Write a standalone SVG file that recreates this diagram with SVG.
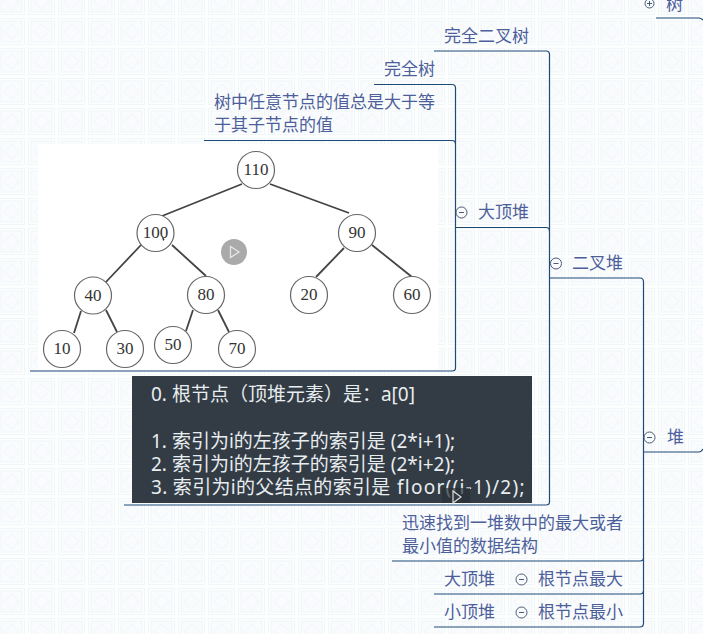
<svg xmlns="http://www.w3.org/2000/svg" width="703" height="634" viewBox="0 0 703 634">
<style>
.t{font-family:"Noto Sans CJK SC","Noto Sans",sans-serif;font-size:17px;fill:#4d5f9b}
.c{font-family:"Noto Sans","Noto Sans CJK SC",sans-serif;font-size:19px;fill:#e8edf0}
.l{fill:none;stroke:#1f4a78;stroke-width:1.2}
.n circle{fill:#fff;stroke:#666;stroke-width:1.2}
.n text{font-family:"Liberation Serif",serif;font-size:17px;fill:#333;text-anchor:middle}
.e{stroke:#444;stroke-width:1.8}
.i circle{fill:none;stroke:#4a5a75;stroke-width:1}
.i path{stroke:#4a5a75;stroke-width:1;fill:none}
</style>
<defs>
<pattern id="bg" width="30" height="30" patternUnits="userSpaceOnUse" x="-3" y="-13">
<rect width="30" height="30" fill="#fdfefe"/>
<rect x="1.500" y="1.500" width="26" height="26" fill="none" stroke="#f1f6f9"/>
<rect x="4" y="4" width="21" height="21" fill="#f9fbfd" stroke="#f2f6fa"/>
<path d="M14.500 7L22 14.500L14.500 22L7 14.500Z" fill="none" stroke="#eff4f9"/>
</pattern>
<g id="minus" class="i"><circle r="5.500"/><path d="M-2.500 0H2.500"/></g>
</defs>
<rect width="703" height="634" fill="url(#bg)"/>
<rect id="picture" x="38" y="144" width="400" height="226" fill="#fff"/>
<g id="connectors">
<path class="l" d="M434 51H546Q549.500 51 549.500 54.500V502Q549.500 505 546 505H124"/>
<path class="l" d="M374 84.500H452Q455.500 84.500 455.500 88V368Q455.500 371 452 371H30"/>
<path class="l" d="M204 140.500H452Q455.500 140.500 455.500 144"/>
<path class="l" d="M455.500 227.500H546Q549.500 227.500 549.500 231"/>
<path class="l" d="M549.500 278H640Q643.500 278 643.500 282V623Q643.500 627 640 627H434"/>
<path class="l" d="M643.500 452H699Q701 452 703 449"/>
<path class="l" d="M656 18H699Q701 18 703 20"/>
<path class="l" d="M392 561H640Q643.500 561 643.500 558"/>
<path class="l" d="M434 594H640Q643.500 594 643.500 591"/>
</g>
<g id="tree-edges">
<path class="e" d="M242 184L162 216M270 184L349 213M141 245L105 283M172 245L206 276M344 248L316 277M372 245L412 277M81 311L74 333M106 310L117 332M193 310L186 331M218 310L229 332"/>
</g>
<g id="n110" class="n"><circle cx="256" cy="170" r="18.500"/><text x="256" y="175">110</text></g>
<g id="n100" class="n"><circle cx="155.500" cy="233" r="18.500"/><text x="155.500" y="238">100</text><path d="M162 236l1 5l1.500-1.500z" fill="#222"/></g>
<g id="n90" class="n"><circle cx="357" cy="233" r="18.500"/><text x="357" y="238">90</text></g>
<g id="n40" class="n"><circle cx="93" cy="295.500" r="18.500"/><text x="93" y="300.500">40</text></g>
<g id="n80" class="n"><circle cx="206" cy="295" r="18.500"/><text x="206" y="300">80</text></g>
<g id="n20" class="n"><circle cx="309" cy="295" r="18.500"/><text x="309" y="300">20</text></g>
<g id="n60" class="n"><circle cx="412" cy="295" r="18.500"/><text x="412" y="300">60</text></g>
<g id="n10" class="n"><circle cx="62" cy="349" r="18.500"/><text x="62" y="354">10</text></g>
<g id="n30" class="n"><circle cx="125" cy="349" r="18.500"/><text x="125" y="354">30</text></g>
<g id="n50" class="n"><circle cx="173" cy="345" r="18.500"/><text x="173" y="350">50</text></g>
<g id="n70" class="n"><circle cx="237" cy="349" r="18.500"/><text x="237" y="354">70</text></g>
<g id="play1"><circle cx="234" cy="252" r="13" fill="#aaa"/><path d="M230.500 246.500L239 252L230.500 257.500Z" fill="none" stroke="#e6e6e6" stroke-width="1.300"/></g>
<g id="code">
<rect x="132" y="376" width="400" height="127" fill="#333c45"/>
<text class="c" x="151" y="401">0. 根节点（顶堆元素）是：a[0]</text>
<text class="c" x="151" y="448">1. 索引为i的左孩子的索引是 (2*i+1);</text>
<text class="c" x="151" y="471">2. 索引为i的左孩子的索引是 (2*i+2);</text>
<text class="c" x="151" y="494" letter-spacing=".32">3. 索引为i的父结点的索引是 <tspan x="397" letter-spacing="1.250">floor((i-1)/2);</tspan></text>
<rect x="442" y="488" width="28" height="15" fill="#2a3037" opacity=".7"/>
<path d="M453 491L461 497L453 503Z" fill="#333c45" stroke="#ddd" stroke-width="1.200"/>
</g>
<g id="node-shu"><g class="i" transform="translate(649.500 3.500)"><circle r="4.500"/><path d="M-2.500 0H2.500M0 -2.500V2.500"/></g><text class="t" x="666" y="10">树</text></g>
<g id="node-wqecs"><text class="t" x="444" y="42">完全二叉树</text></g>
<g id="node-wqs"><text class="t" x="384" y="75">完全树</text></g>
<g id="node-desc"><text class="t" x="214" y="108">树中任意节点的值总是大于等</text><text class="t" x="214" y="131">于其子节点的值</text></g>
<g id="node-dadui"><use href="#minus" x="461.500" y="212.500"/><text class="t" x="478" y="218">大顶堆</text></g>
<g id="node-ercha"><use href="#minus" x="556" y="263.500"/><text class="t" x="572" y="269">二叉堆</text></g>
<g id="node-dui"><use href="#minus" x="649.500" y="437.500"/><text class="t" x="667" y="443">堆</text></g>
<g id="node-fast"><text class="t" x="402" y="529">迅速找到一堆数中的最大或者</text><text class="t" x="402" y="552">最小值的数据结构</text></g>
<g id="node-big"><text class="t" x="444" y="585">大顶堆</text><use href="#minus" x="521.500" y="579.500"/><text class="t" x="538" y="585">根节点最大</text></g>
<g id="node-small"><text class="t" x="444" y="618">小顶堆</text><use href="#minus" x="521.500" y="612.500"/><text class="t" x="538" y="618">根节点最小</text></g>
</svg>
